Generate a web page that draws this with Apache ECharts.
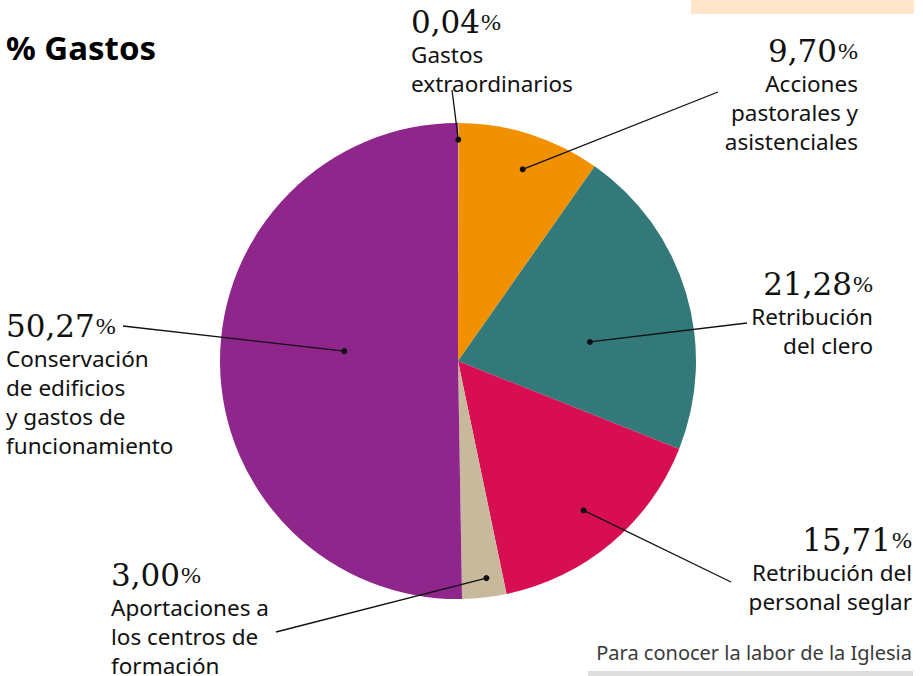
<!DOCTYPE html>
<html>
<head>
<meta charset="utf-8">
<script src="https://cdn.jsdelivr.net/npm/echarts@6/dist/echarts.min.js"></script>
<style>
  html, body { margin: 0; padding: 0; background: #fff; }
  #main { width: 923px; height: 676px; }
</style>
</head>
<body>
<div id="main"></div>
<script>
// datos del gráfico
var categories = [
  'Gastos extraordinarios',
  'Acciones pastorales y asistenciales',
  'Retribución del clero',
  'Retribución del personal seglar',
  'Aportaciones a los centros de formación',
  'Conservación de edificios y gastos de funcionamiento'
];
var values = [0.04, 9.70, 21.28, 15.71, 3.00, 50.27];
var labelLines = [
  ['Gastos', 'extraordinarios'],
  ['Acciones', 'pastorales y', 'asistenciales'],
  ['Retribución', 'del clero'],
  ['Retribución del', 'personal seglar'],
  ['Aportaciones a', 'los centros de', 'formación'],
  ['Conservación', 'de edificios', 'y gastos de', 'funcionamiento']
];
var colors = ['#c3d2ec', '#f29100', '#33797a', '#d80e52', '#c9b99c', '#8f268c'];

// maquetación
var center = [458, 361];
var radius = 238;
// posición del punto dentro de cada porción (fracción del ángulo, fracción del radio)
var dotAngle = [0.5, 0.53, 0.61, 0.5, 0.4, 0.53];
var dotRadius = [0.93, 0.85, 0.56, 0.82, 0.92, 0.48];
// extremo exterior de cada línea guía
var lineEnd = [[452, 90], [718, 92], [747, 323], [731, 582], [276, 632], [123, 326]];
// caja de texto: x, y (arriba), alineación
var labelBox = [
  [411, 3, 'left'],
  [858, 32, 'right'],
  [873, 265, 'right'],
  [912, 521, 'right'],
  [111, 556, 'left'],
  [6, 307, 'left']
];

function fmt(v) {
  return v.toFixed(2).replace('.', ',');
}

var total = values.reduce(function (a, b) { return a + b; }, 0);
var graphic = [];
var acc = 0;
values.forEach(function (v, i) {
  var a = (acc + v * dotAngle[i]) / total * Math.PI * 2;
  acc += v;
  var r = radius * dotRadius[i];
  var px = center[0] + r * Math.sin(a);
  var py = center[1] - r * Math.cos(a);
  graphic.push({
    type: 'line', z: 10,
    shape: { x1: px, y1: py, x2: lineEnd[i][0], y2: lineEnd[i][1] },
    style: { stroke: '#111', lineWidth: 1.3 }
  });
  graphic.push({
    type: 'circle', z: 11,
    shape: { cx: px, cy: py, r: 3 },
    style: { fill: '#111' }
  });
  var txt = '{n|' + fmt(v) + '}{p|%}\n' + labelLines[i].map(function (s) { return '{t|' + s + '}'; }).join('\n');
  graphic.push({
    type: 'text', z: 12,
    x: labelBox[i][0], y: labelBox[i][1],
    style: {
      text: txt,
      align: labelBox[i][2],
      verticalAlign: 'top',
      rich: {
        n: { fontFamily: 'DejaVu Serif', fontSize: 31, lineHeight: 37, fill: '#111' },
        p: { fontFamily: 'Liberation Serif', fontSize: 24, lineHeight: 37, fill: '#111', verticalAlign: 'middle', padding: [0, 0, 0, 1] },
        t: { fontFamily: 'Noto Sans', fontSize: 22.5, lineHeight: 29, fill: '#111' }
      }
    }
  });
});

// título, banda superior y pie
graphic.push({
  type: 'text', x: 6, y: 47,
  style: { text: '% Gastos', fontFamily: 'Noto Sans', fontWeight: 'bold', fontSize: 33, fill: '#000', verticalAlign: 'middle' }
});
graphic.push({
  type: 'rect', shape: { x: 691, y: 0, width: 223, height: 14 },
  style: { fill: '#ffe5ca' }
});
graphic.push({
  type: 'text', x: 912, y: 652,
  style: { text: 'Para conocer la labor de la Iglesia', fontFamily: 'Noto Sans', fontSize: 20, fill: '#3a3a3a', align: 'right', verticalAlign: 'middle' }
});
graphic.push({
  type: 'rect', shape: { x: 588, y: 671, width: 325, height: 5 },
  style: { fill: '#dddddd' }
});

var myChart = echarts.init(document.getElementById('main'), null, { renderer: 'svg' });
var option = {
  animation: false,
  backgroundColor: '#fff',
  series: [{
    type: 'pie',
    center: center,
    radius: radius,
    startAngle: 90,
    clockwise: true,
    label: { show: false },
    labelLine: { show: false },
    emphasis: { disabled: true },
    data: categories.map(function (c, i) {
      var item = { name: c, value: values[i], itemStyle: { color: colors[i] } };
      if (i === 0) {
        item.itemStyle.borderColor = colors[0];
        item.itemStyle.borderWidth = 2;
      }
      return item;
    })
  }],
  graphic: graphic
};
myChart.setOption(option);
</script>
</body>
</html>
